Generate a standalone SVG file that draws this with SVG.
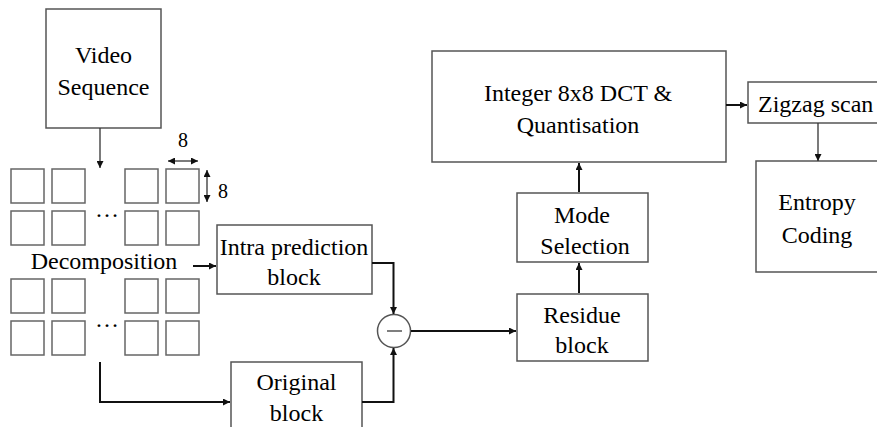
<svg xmlns="http://www.w3.org/2000/svg" width="877" height="427" viewBox="0 0 877 427">
<defs>
<marker id="ah" viewBox="0 0 10 10" refX="10" refY="5" markerWidth="8" markerHeight="7" markerUnits="userSpaceOnUse" orient="auto-start-reverse">
<path d="M0,0 L10,5 L0,10 z" fill="#111"/>
</marker>
</defs>
<rect width="877" height="427" fill="#fff"/>
<g id="video-sequence">
<rect x="46" y="9" width="115" height="119" fill="#fff" stroke="#555" stroke-width="1.5"/>
<text font-family="Times New Roman, Liberation Serif, serif" font-size="24" text-anchor="middle" x="103.5" y="63">Video</text>
<text font-family="Times New Roman, Liberation Serif, serif" font-size="24" text-anchor="middle" x="103.5" y="95">Sequence</text>
</g>
<g id="decomposition">
<g fill="#fff" stroke="#666" stroke-width="1.5">
<rect x="11" y="169" width="33" height="34"/>
<rect x="52" y="169" width="33" height="34"/>
<rect x="125" y="169" width="33" height="34"/>
<rect x="166" y="169" width="33" height="34"/>
<rect x="11" y="211" width="33" height="34"/>
<rect x="52" y="211" width="33" height="34"/>
<rect x="125" y="211" width="33" height="34"/>
<rect x="166" y="211" width="33" height="34"/>
<rect x="11" y="279" width="33" height="34"/>
<rect x="52" y="279" width="33" height="34"/>
<rect x="125" y="279" width="33" height="34"/>
<rect x="166" y="279" width="33" height="34"/>
<rect x="11" y="321" width="33" height="34"/>
<rect x="52" y="321" width="33" height="34"/>
<rect x="125" y="321" width="33" height="34"/>
<rect x="166" y="321" width="33" height="34"/>
</g>
<text font-family="Times New Roman, Liberation Serif, serif" font-size="24" text-anchor="middle" x="107" y="217">…</text>
<text font-family="Times New Roman, Liberation Serif, serif" font-size="24" text-anchor="middle" x="107" y="327">…</text>
<text font-family="Times New Roman, Liberation Serif, serif" font-size="24" text-anchor="middle" x="104" y="269">Decomposition</text>
<text font-family="Times New Roman, Liberation Serif, serif" font-size="20" text-anchor="middle" x="183" y="147">8</text>
<text font-family="Times New Roman, Liberation Serif, serif" font-size="20" text-anchor="middle" x="223" y="198">8</text>
<line x1="168" y1="161" x2="198" y2="161" stroke="#333" stroke-width="1.3" marker-start="url(#ah)" marker-end="url(#ah)"/>
<line x1="207" y1="170" x2="207" y2="202" stroke="#333" stroke-width="1.3" marker-start="url(#ah)" marker-end="url(#ah)"/>
</g>
<g id="intra-prediction">
<rect x="217" y="225" width="155" height="69" fill="#fff" stroke="#555" stroke-width="1.5"/>
<text font-family="Times New Roman, Liberation Serif, serif" font-size="24" text-anchor="middle" x="294" y="255">Intra prediction</text>
<text font-family="Times New Roman, Liberation Serif, serif" font-size="24" text-anchor="middle" x="294" y="285">block</text>
</g>
<g id="original-block">
<rect x="231" y="362" width="131" height="75" fill="#fff" stroke="#555" stroke-width="1.5"/>
<text font-family="Times New Roman, Liberation Serif, serif" font-size="24" text-anchor="middle" x="296.5" y="390">Original</text>
<text font-family="Times New Roman, Liberation Serif, serif" font-size="24" text-anchor="middle" x="296.5" y="421">block</text>
</g>
<g id="subtract">
<circle cx="394" cy="331" r="16.5" fill="#fff" stroke="#555" stroke-width="1.5"/>
<line x1="387" y1="331" x2="402" y2="331" stroke="#555" stroke-width="1.5"/>
</g>
<g id="residue-block">
<rect x="517" y="294" width="131" height="67" fill="#fff" stroke="#555" stroke-width="1.5"/>
<text font-family="Times New Roman, Liberation Serif, serif" font-size="24" text-anchor="middle" x="582" y="323">Residue</text>
<text font-family="Times New Roman, Liberation Serif, serif" font-size="24" text-anchor="middle" x="582" y="353">block</text>
</g>
<g id="mode-selection">
<rect x="517" y="193" width="131" height="69" fill="#fff" stroke="#555" stroke-width="1.5"/>
<text font-family="Times New Roman, Liberation Serif, serif" font-size="24" text-anchor="middle" x="582" y="223">Mode</text>
<text font-family="Times New Roman, Liberation Serif, serif" font-size="24" text-anchor="middle" x="585" y="254">Selection</text>
</g>
<g id="dct">
<rect x="432" y="51" width="294" height="111" fill="#fff" stroke="#555" stroke-width="1.5"/>
<text font-family="Times New Roman, Liberation Serif, serif" font-size="24" text-anchor="middle" x="578" y="101">Integer 8x8 DCT &amp;</text>
<text font-family="Times New Roman, Liberation Serif, serif" font-size="24" text-anchor="middle" x="578" y="133">Quantisation</text>
</g>
<g id="zigzag">
<rect x="748" y="82" width="140" height="41" fill="#fff" stroke="#555" stroke-width="1.5"/>
<text font-family="Times New Roman, Liberation Serif, serif" font-size="24" x="758" y="112">Zigzag scan</text>
</g>
<g id="entropy">
<rect x="756" y="161" width="140" height="111" fill="#fff" stroke="#555" stroke-width="1.5"/>
<text font-family="Times New Roman, Liberation Serif, serif" font-size="24" text-anchor="middle" x="817" y="210">Entropy</text>
<text font-family="Times New Roman, Liberation Serif, serif" font-size="24" text-anchor="middle" x="817" y="243">Coding</text>
</g>
<g id="connectors" fill="none" stroke="#111" stroke-width="2">
<line x1="100" y1="128" x2="100" y2="168" stroke="#333" stroke-width="1.3" marker-end="url(#ah)"/>
<line x1="193" y1="266" x2="216" y2="266" marker-end="url(#ah)"/>
<polyline points="100,362 100,402 230,402" marker-end="url(#ah)"/>
<polyline points="372,263 393.5,263 393.5,314" marker-end="url(#ah)"/>
<polyline points="362,402 393.5,402 393.5,348" marker-end="url(#ah)"/>
<line x1="411" y1="331" x2="516" y2="331" marker-end="url(#ah)"/>
<line x1="579" y1="293" x2="579" y2="263" marker-end="url(#ah)"/>
<line x1="579" y1="192" x2="579" y2="163" marker-end="url(#ah)"/>
<line x1="726" y1="105" x2="747" y2="105" marker-end="url(#ah)"/>
<line x1="818" y1="123" x2="818" y2="161" stroke="#333" stroke-width="1.3" marker-end="url(#ah)"/>
</g>
</svg>
